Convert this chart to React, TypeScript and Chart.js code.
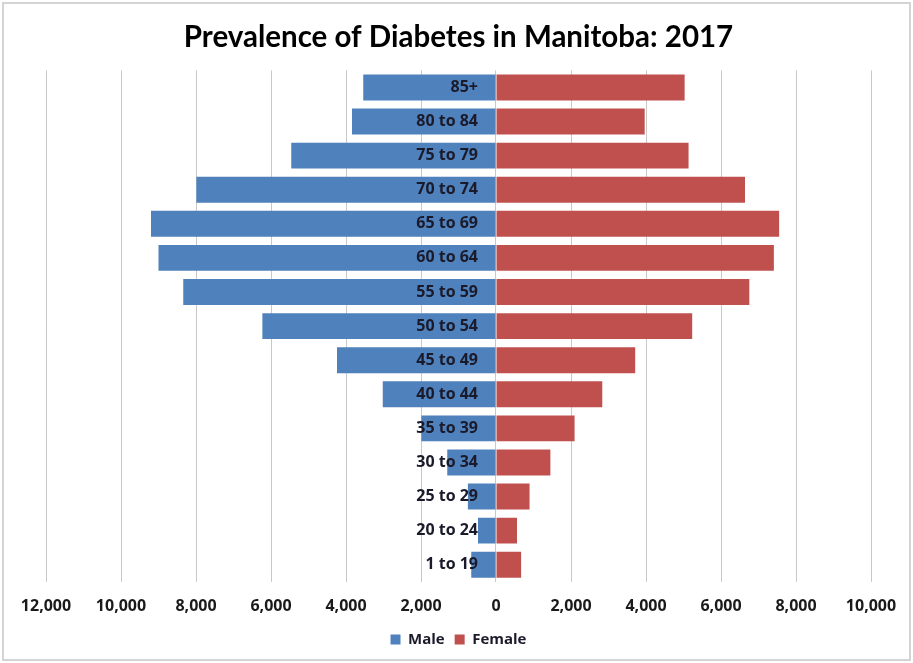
import React, { useEffect, useRef } from "react";
import { Chart, registerables } from "chart.js";

Chart.register(...registerables);

const ageGroups = [
  "85+",
  "80 to 84",
  "75 to 79",
  "70 to 74",
  "65 to 69",
  "60 to 64",
  "55 to 59",
  "50 to 54",
  "45 to 49",
  "40 to 44",
  "35 to 39",
  "30 to 34",
  "25 to 29",
  "20 to 24",
  "1 to 19",
];

const maleCounts = [3540, 3840, 5460, 7990, 9200, 9000, 8340, 6230, 4240, 3020, 1990, 1300, 750, 480, 660];
const femaleCounts = [5030, 3965, 5135, 6640, 7550, 7410, 6755, 5232, 3712, 2834, 2095, 1450, 895, 560, 670];

const xMin = -12000;
const xMax = 10000;
const xStep = 2000;

const TITLE_FONT = "Lato, 'Open Sans', sans-serif";
const FONT = "'Open Sans', Lato, sans-serif";

export default function App() {
  const canvasRef = useRef<HTMLCanvasElement | null>(null);

  useEffect(() => {
    if (!canvasRef.current) return;
    const chart = new Chart(canvasRef.current, {
      type: "bar",
      data: {
        labels: ageGroups,
        datasets: [
          {
            label: "Male",
            data: maleCounts.map((v) => -v),
            backgroundColor: "#4F81BD",
            borderWidth: 0,
          },
          {
            label: "Female",
            data: femaleCounts,
            backgroundColor: "#C0504D",
            borderWidth: 0,
          },
        ],
      },
      options: {
        indexAxis: "y",
        responsive: true,
        maintainAspectRatio: false,
        animation: false,
        barPercentage: 0.76,
        categoryPercentage: 1,
        layout: { padding: { left: 46, right: 42, top: 0, bottom: 6 } },
        scales: {
          x: {
            type: "linear",
            stacked: true,
            min: xMin,
            max: xMax,
            border: { display: false },
            grid: { color: "#c8c8c8", lineWidth: 1, drawTicks: false },
            ticks: {
              stepSize: xStep,
              padding: 15,
              color: "#1a1a1a",
              font: { family: FONT, size: 16, weight: "bold" },
              maxRotation: 0,
              callback: (v: any) => Math.abs(Number(v)).toLocaleString("en-US"),
            },
            afterFit: (scale: any) => {
              scale.height -= 9;
            },
          },
          y: {
            stacked: true,
            // category labels anchored just left of the zero line
            position: { x: -480 } as any,
            border: { display: false },
            grid: { display: false, drawTicks: false },
            ticks: {
              z: 1,
              padding: 0,
              color: "#1a1a2a",
              font: { family: FONT, size: 16, weight: "bold" },
            },
          },
        },
        plugins: {
          title: {
            display: true,
            text: "Prevalence of Diabetes in Manitoba: 2017",
            color: "#000000",
            font: { family: TITLE_FONT, size: 29.5, weight: "bold" },
            padding: { top: 20, bottom: 15 },
          },
          legend: {
            position: "bottom",
            labels: {
              boxWidth: 10,
              boxHeight: 10,
              padding: 10,
              color: "#1a1a2a",
              font: { family: FONT, size: 15, weight: "bold" },
            },
          },
          tooltip: { enabled: false },
        },
      },
    });
    return () => chart.destroy();
  }, []);

  return (
    <div style={{ position: "absolute", left: 0, top: 0, width: 913, height: 663, background: "#ffffff" }}>
      <canvas ref={canvasRef} />
      <div
        style={{
          position: "absolute",
          left: 2,
          top: 2,
          right: 2,
          bottom: 2,
          border: "2px solid #d4d4d4",
          pointerEvents: "none",
        }}
      />
    </div>
  );
}
